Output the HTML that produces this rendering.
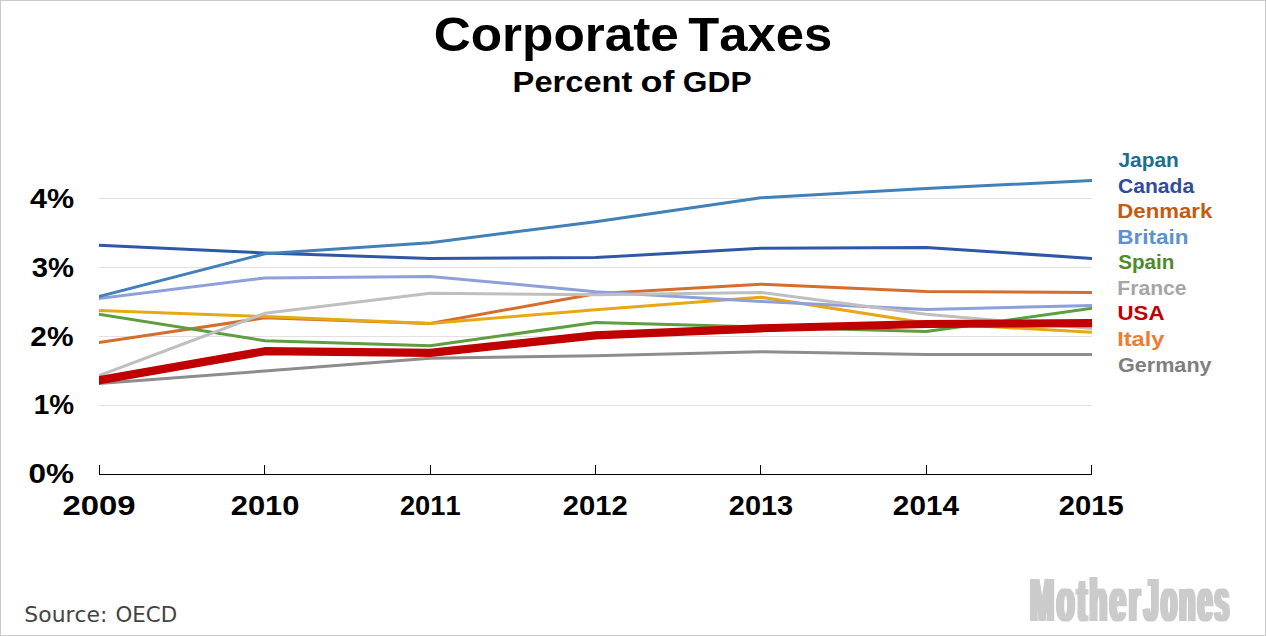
<!DOCTYPE html>
<html lang="en">
<head>
<meta charset="utf-8">
<title>Corporate Taxes - Percent of GDP</title>
<style>
html,body{margin:0;padding:0;background:#fff;}
body{width:1266px;height:636px;overflow:hidden;position:relative;}
svg{display:block;position:absolute;left:0;top:0;}
text{font-family:"Liberation Sans",sans-serif;font-kerning:none;}
.b{font-weight:bold;}
.src{font-family:"DejaVu Sans","Liberation Sans",sans-serif;fill:#444;}
</style>
</head>
<body>
<svg width="1266" height="636" viewBox="0 0 1266 636">
<rect x="0" y="0" width="1266" height="636" fill="#fff"/>
<rect x="0.5" y="0.5" width="1265" height="635" fill="none" stroke="#cbcbcb" stroke-width="1"/>
<text class="b" y="50.5" font-size="48.4" fill="#000"><tspan x="433.70" textLength="245.16" lengthAdjust="spacingAndGlyphs">Corporate</tspan> <tspan x="688.33" textLength="143.85" lengthAdjust="spacingAndGlyphs">Taxes</tspan></text>
<text class="b" y="92" font-size="29.5" fill="#000"><tspan x="512.62" textLength="119.78" lengthAdjust="spacingAndGlyphs">Percent</tspan> <tspan x="640.50" textLength="33.93" lengthAdjust="spacingAndGlyphs">of</tspan> <tspan x="682.80" textLength="68.79" lengthAdjust="spacingAndGlyphs">GDP</tspan></text>
<rect x="99" y="198" width="993" height="1" fill="#e1e1e1"/>
<rect x="99" y="267" width="993" height="1" fill="#e1e1e1"/>
<rect x="99" y="336" width="993" height="1" fill="#e1e1e1"/>
<rect x="99" y="405" width="993" height="1" fill="#e1e1e1"/>
<text class="b" y="208.0" font-size="28.2" fill="#000"><tspan x="29.94" textLength="44.17" lengthAdjust="spacingAndGlyphs">4%</tspan></text>
<text class="b" y="276.9" font-size="28.2" fill="#000"><tspan x="31.83" textLength="42.24" lengthAdjust="spacingAndGlyphs">3%</tspan></text>
<text class="b" y="345.5" font-size="28.2" fill="#000"><tspan x="30.36" textLength="43.23" lengthAdjust="spacingAndGlyphs">2%</tspan></text>
<text class="b" y="414.3" font-size="28.2" fill="#000"><tspan x="33.64" textLength="40.40" lengthAdjust="spacingAndGlyphs">1%</tspan></text>
<text class="b" y="482.7" font-size="28.2" fill="#000"><tspan x="28.55" textLength="45.58" lengthAdjust="spacingAndGlyphs">0%</tspan></text>
<defs><clipPath id="plot"><rect x="99" y="100" width="993" height="374"/></clipPath></defs>
<g clip-path="url(#plot)">
<polyline points="93.50,245.02 264.83,253.00 430.17,258.50 595.50,257.60 760.83,248.30 926.17,247.40 1097.50,258.80" fill="none" stroke="#3056A8" stroke-width="3" stroke-linejoin="round" stroke-linecap="butt"/>
<polyline points="93.50,383.95 264.83,371.00 430.17,358.30 595.50,355.70 760.83,351.80 926.17,354.50 1097.50,354.50" fill="none" stroke="#8D8D8D" stroke-width="3" stroke-linejoin="round" stroke-linecap="butt"/>
<polyline points="93.50,343.29 264.83,317.80 430.17,323.40 595.50,293.70 760.83,284.20 926.17,291.60 1097.50,292.43" fill="none" stroke="#D66D2C" stroke-width="3" stroke-linejoin="round" stroke-linecap="butt"/>
<polyline points="93.50,310.17 264.83,316.60 430.17,323.40 595.50,309.70 760.83,297.20 926.17,323.00 1097.50,332.64" fill="none" stroke="#E6A914" stroke-width="3" stroke-linejoin="round" stroke-linecap="butt"/>
<polyline points="93.50,299.14 264.83,277.90 430.17,276.40 595.50,291.70 760.83,301.40 926.17,309.40 1097.50,305.25" fill="none" stroke="#8DA0D9" stroke-width="3" stroke-linejoin="round" stroke-linecap="butt"/>
<polyline points="93.50,313.34 264.83,340.70 430.17,345.80 595.50,322.60 760.83,327.00 926.17,331.60 1097.50,307.45" fill="none" stroke="#5E9E40" stroke-width="3" stroke-linejoin="round" stroke-linecap="butt"/>
<polyline points="93.50,377.76 264.83,313.30 430.17,293.30 595.50,294.80 760.83,292.40 926.17,314.30 1097.50,329.02" fill="none" stroke="#BFBFBF" stroke-width="3" stroke-linejoin="round" stroke-linecap="butt"/>
<polyline points="93.50,297.95 264.83,253.80 430.17,242.70 595.50,221.70 760.83,197.70 926.17,188.40 1097.50,180.32" fill="none" stroke="#4280B8" stroke-width="3" stroke-linejoin="round" stroke-linecap="butt"/>
<polyline points="93.50,381.25 264.83,351.20 430.17,352.80 595.50,335.40 760.83,328.30 926.17,324.00 1097.50,323.07" fill="none" stroke="#C00000" stroke-width="8.2" stroke-linejoin="round" stroke-linecap="butt"/>
</g>
<rect x="99" y="474" width="993" height="1" fill="#000"/>
<rect x="99" y="465" width="1" height="10" fill="#000"/>
<rect x="264" y="465" width="1" height="10" fill="#000"/>
<rect x="430" y="465" width="1" height="10" fill="#000"/>
<rect x="595" y="465" width="1" height="10" fill="#000"/>
<rect x="760" y="465" width="1" height="10" fill="#000"/>
<rect x="926" y="465" width="1" height="10" fill="#000"/>
<rect x="1091" y="465" width="1" height="10" fill="#000"/>
<text class="b" y="515.0" font-size="27.6" fill="#000"><tspan x="62.46" textLength="73.06" lengthAdjust="spacingAndGlyphs">2009</tspan></text>
<text class="b" y="515.0" font-size="27.6" fill="#000"><tspan x="230.73" textLength="68.74" lengthAdjust="spacingAndGlyphs">2010</tspan></text>
<text class="b" y="515.0" font-size="27.6" fill="#000"><tspan x="399.96" textLength="60.60" lengthAdjust="spacingAndGlyphs">2011</tspan></text>
<text class="b" y="515.0" font-size="27.6" fill="#000"><tspan x="562.89" textLength="64.98" lengthAdjust="spacingAndGlyphs">2012</tspan></text>
<text class="b" y="515.0" font-size="27.6" fill="#000"><tspan x="728.80" textLength="64.35" lengthAdjust="spacingAndGlyphs">2013</tspan></text>
<text class="b" y="515.0" font-size="27.6" fill="#000"><tspan x="892.87" textLength="66.09" lengthAdjust="spacingAndGlyphs">2014</tspan></text>
<text class="b" y="515.0" font-size="27.6" fill="#000"><tspan x="1058.79" textLength="64.92" lengthAdjust="spacingAndGlyphs">2015</tspan></text>
<text class="b" y="167.30" font-size="19.4" fill="#1B6F8F"><tspan x="1118.48" textLength="60.41" lengthAdjust="spacingAndGlyphs">Japan</tspan></text>
<text class="b" y="192.83" font-size="19.4" fill="#2F4B9B"><tspan x="1117.93" textLength="76.23" lengthAdjust="spacingAndGlyphs">Canada</tspan></text>
<text class="b" y="218.36" font-size="19.4" fill="#C55A11"><tspan x="1117.32" textLength="94.96" lengthAdjust="spacingAndGlyphs">Denmark</tspan></text>
<text class="b" y="243.89" font-size="19.4" fill="#5B92CF"><tspan x="1117.29" textLength="71.30" lengthAdjust="spacingAndGlyphs">Britain</tspan></text>
<text class="b" y="269.42" font-size="19.4" fill="#4F8A2B"><tspan x="1118.21" textLength="56.17" lengthAdjust="spacingAndGlyphs">Spain</tspan></text>
<text class="b" y="294.95" font-size="19.4" fill="#A6A6A6"><tspan x="1117.39" textLength="69.03" lengthAdjust="spacingAndGlyphs">France</tspan></text>
<text class="b" y="320.48" font-size="19.4" fill="#C00000"><tspan x="1117.46" textLength="47.02" lengthAdjust="spacingAndGlyphs">USA</tspan></text>
<text class="b" y="346.01" font-size="19.4" fill="#ED7D31"><tspan x="1117.22" textLength="47.20" lengthAdjust="spacingAndGlyphs">Italy</tspan></text>
<text class="b" y="371.54" font-size="19.4" fill="#7F7F7F"><tspan x="1117.91" textLength="93.70" lengthAdjust="spacingAndGlyphs">Germany</tspan></text>
<text class="src" y="621.5" font-size="21.6"><tspan x="24.36" textLength="83.10" lengthAdjust="spacingAndGlyphs">Source:</tspan> <tspan x="115.40" textLength="61.77" lengthAdjust="spacingAndGlyphs">OECD</tspan></text>
<defs><filter id="fat" x="-5%" y="-20%" width="110%" height="140%"><feMorphology operator="dilate" radius="2 0"/></filter></defs>
<g filter="url(#fat)"><text class="b" y="620.9" font-size="61" fill="#cccbcb"><tspan x="1030.06" textLength="112.50" lengthAdjust="spacingAndGlyphs" letter-spacing="5.5">Mother</tspan> <tspan x="1144.00" textLength="87.53" lengthAdjust="spacingAndGlyphs" letter-spacing="5.5">Jones</tspan></text></g>
</svg>
</body>
</html>
